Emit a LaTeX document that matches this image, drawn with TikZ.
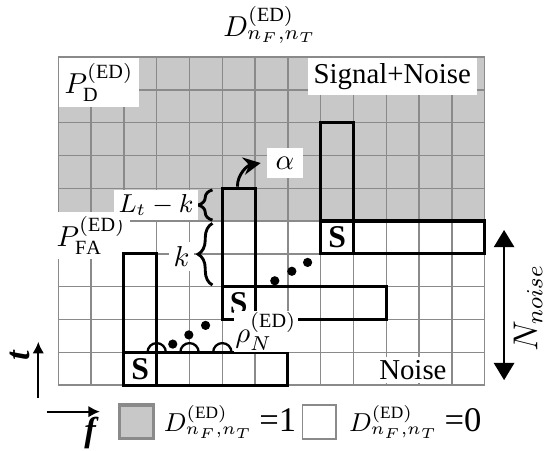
\documentclass[tikz,border=0pt]{standalone}
\usepackage{fontspec}
\setmainfont{Liberation Serif}
\usepackage{amsmath}
\usetikzlibrary{arrows.meta,positioning,calc,decorations.pathreplacing}
\definecolor{cellgray}{HTML}{C8C8C8}
\definecolor{linegray}{HTML}{8A8A8A}
\tikzset{
  % grid and signal blocks
  gridline/.style = {linegray, line width=0.45pt},
  bar/.style      = {draw=black, line width=1.1pt},
  sig/.style      = {font=\fontsize{11}{12}\selectfont\bfseries},
  % labels on a white patch
  lbl/.style      = {fill=white, inner sep=1.5pt, font=\fontsize{10}{12}\selectfont},
  brc/.style      = {decorate, decoration={brace, amplitude=5pt}, line width=1pt},
  dot/.style      = {circle, fill=black, inner sep=0pt, minimum size=3.2pt},
  swatch/.style   = {rectangle, minimum size=0.41cm, inner sep=0pt},
  key/.style      = {font=\fontsize{9}{12}\selectfont, anchor=west, inner sep=0pt},
  axis/.style     = {-{Latex[length=4pt,width=4pt]}, line width=0.7pt},
  dir/.style      = {font=\fontsize{12}{14}\selectfont\bfseries\itshape},
}
\newcommand{\keyval}[1]{{\fontsize{12}{14}\selectfont =#1}}

\begin{document}
\begin{tikzpicture}[x=0.4cm,y=0.4cm]
\useasboundingbox (-1.777,-1.98) rectangle (14.99,11.74);
% cells
\fill[cellgray] (0,5) rectangle (13,10);
\draw[gridline, step=1] (0,0) grid (13,10);
\node (title) at (6.45,10.98) {$D^{(\mathrm{ED})}_{n_F,n_T}$};
% region labels
\node[lbl, anchor=north west, inner sep=2pt] (pd) at (0,10) {$P_{\mathrm{D}}^{(\mathrm{ED})}$};
\node[lbl, anchor=north east, inner sep=2pt] (sn) at (12.77,10) {Signal+Noise};
\node[lbl] (pfa) at (1.0,4.57) {$P_{\mathrm{FA}}^{(\mathrm{ED})}$};
\node[lbl, inner sep=1pt] (noise) at (10.81,0.46) {Noise};
% signal blocks
\foreach \x/\y in {2/0,5/2,8/4}{
  \draw[bar] (\x,\y) rectangle ++(1,4);
  \draw[bar] (\x,\y) rectangle ++(5,1);
  \node[sig] (s\x) at (\x+0.5,\y+0.5) {S};
}
% arcs
\foreach \x in {3,...,6}
  \draw[line width=0.8pt] (\x+0.28,1) arc (0:180:0.28);
% dots
\foreach \x/\y [count=\i] in {3.49/1.25,3.98/1.53,4.49/1.82,6.6/3.18,7.12/3.47,7.6/3.74}
  \node[dot] (d\i) at (\x,\y) {};
\node[lbl, inner sep=0.5pt] (rho) at (6.33,1.63) {$\rho_N^{(\mathrm{ED})}$};
% braces
\draw[brc] (4.7,5.03) -- (4.7,5.95);
\draw[brc] (4.7,3.05) -- (4.7,4.93);
\node[lbl, font=\fontsize{9}{11}\selectfont] (ltk) at (2.98,5.49) {$L_t-k$};
\node[lbl] (klbl) at (3.76,3.93) {$k$};
\node[lbl, inner sep=3pt] (alpha) at (6.91,6.77) {$\alpha$};
\coordinate (atop) at (5.46,6.05);
\draw[-{Stealth[length=6pt,width=6pt]}, line width=1pt]
  (atop) to[out=90,in=190] ([xshift=-2pt]alpha.west);
% noise span
\coordinate (nt) at (13.59,4.73);
\coordinate (nb) at (13.59,0.15);
\draw[{Triangle[length=6pt,width=7pt]}-{Triangle[length=6pt,width=7pt]}, line width=0.9pt] (nt) -- (nb);
\node[rotate=90, font=\fontsize{12}{14}\selectfont] (nn) at (14.32,2.35) {$N_{noise}$};
% axes
\coordinate (t0) at (-0.61,-0.4);
\coordinate (t1) at (-0.61,1.32);
\draw[axis] (t0) -- (t1);
\node[dir, rotate=90] (tl) at (-1.17,0.91) {t};
\coordinate (f0) at (-0.355,-0.81);
\coordinate (f1) at (1.27,-0.81);
\draw[axis] (f0) -- (f1);
\node[dir] (fl) at (0.97,-1.46) {f};
% legend
\node[swatch, fill=cellgray, draw=linegray, line width=1.1pt] (k1) at (2.38,-1.12) {};
\node[key] (k1t) at ([xshift=3pt]k1.east) {$D^{(\mathrm{ED})}_{n_F,n_T}$ \keyval{1}};
\node[swatch, draw=linegray, line width=0.6pt] (k0) at (7.96,-1.12) {};
\node[key] (k0t) at ([xshift=4pt]k0.east) {$D^{(\mathrm{ED})}_{n_F,n_T}$ \keyval{0}};
\end{tikzpicture}
\end{document}
